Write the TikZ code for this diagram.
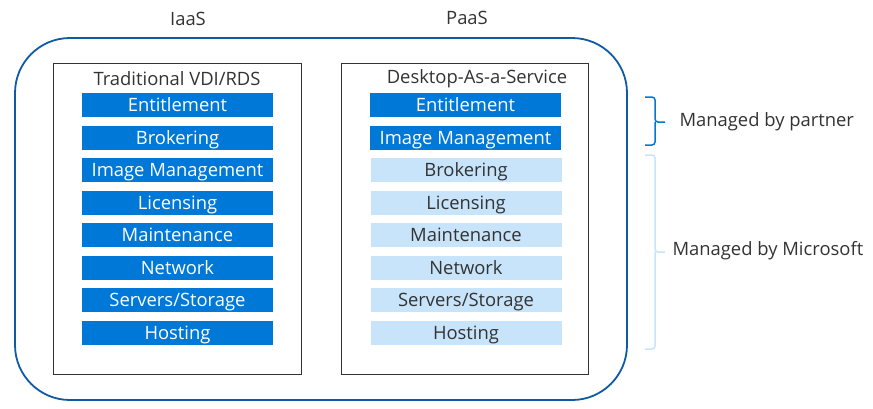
\documentclass[tikz,border=0pt]{standalone}
\usepackage{fontspec}
\setmainfont{Open Sans}
\definecolor{barblue}{HTML}{0078D7}
\definecolor{barlight}{HTML}{C7E4FA}
\definecolor{frameblue}{HTML}{0F5AA5}
\definecolor{txtgray}{HTML}{333333}

\begin{document}
\begin{tikzpicture}[x=1pt,y=-1pt,
    every node/.style={text=txtgray,font=\fontsize{18.4}{18.4}\selectfont},
    bar/.style={minimum width=191pt,minimum height=24pt,inner sep=0pt,
      text height=13.4pt,text depth=0pt},
    darkbar/.style={bar,fill=barblue,text=white},
    lightbar/.style={bar,fill=barlight}]
  \useasboundingbox (0,0) rectangle (873,408);
  % frames
  \draw[frameblue,line width=1.8pt,rounded corners=55pt] (15,38) rectangle (627,400);
  \draw[txtgray,thin] (53,63) rectangle (301,374);
  \draw[txtgray,thin] (341,63) rectangle (588,374);
  \node (iaas) at (188,19) {IaaS};
  \node (paas) at (467,18) {PaaS};
  \node (trad) at (177,79) {Traditional VDI/RDS};
  \node (daas) at (477,79) {Desktop-As-a-Service};
  % left column
  \foreach \name [count=\i] in {Entitlement,Brokering,Image Management,Licensing,
      Maintenance,Network,Servers/Storage,Hosting}
    \node[darkbar] (l\i) at (177.5,{105+32.5*(\i-1)}) {\name};
  % right column
  \foreach \name [count=\i] in {Entitlement,Image Management}
    \node[darkbar] (r\i) at (465.5,{105+32.5*(\i-1)}) {\name};
  \foreach \name [count=\i from 3] in {Brokering,Licensing,Maintenance,Network,
      Servers/Storage,Hosting}
    \node[lightbar] (r\i) at (466,{105+32.5*(\i-1)}) {\name};
  % braces
  \draw[barblue,line width=1.5pt,rounded corners=3pt]
    (645,97) -- (655,97) -- (655,122) -- (665,122) (655,122) -- (655,145) -- (645,145);
  \draw[barlight,line width=1.5pt,rounded corners=3pt]
    (645,155) -- (655,155) -- (655,252) -- (665,252) (655,252) -- (655,349) -- (645,349);
  \node[anchor=west] (partner) at (676,122) {Managed by partner};
  \node[anchor=west] (msft) at (669,251) {Managed by Microsoft};
\end{tikzpicture}
\end{document}
